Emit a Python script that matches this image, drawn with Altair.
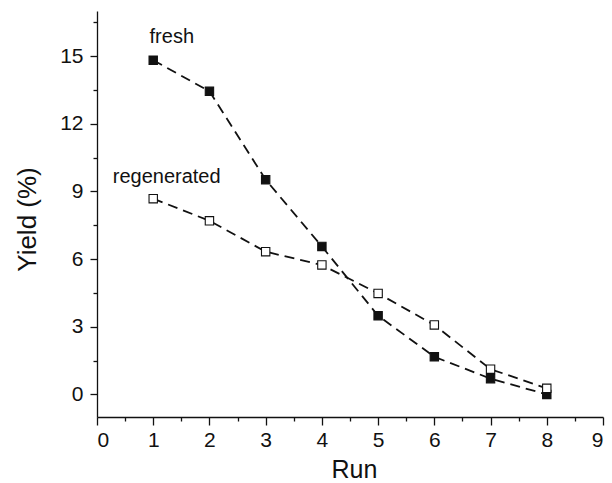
import altair as alt
import pandas as pd

runs = [1, 2, 3, 4, 5, 6, 7, 8]
fresh = [14.82, 13.44, 9.52, 6.56, 3.49, 1.67, 0.70, 0.0]
regenerated = [8.68, 7.70, 6.33, 5.74, 4.48, 3.08, 1.12, 0.27]
series_names = ["fresh", "regenerated"]

x_major = [0, 1, 2, 3, 4, 5, 6, 7, 8, 9]
x_minor = [0.5, 1.5, 2.5, 3.5, 4.5, 5.5, 6.5, 7.5, 8.5]
y_major = [0, 3, 6, 9, 12, 15]
y_minor = [-1.5, 1.5, 4.5, 7.5, 10.5, 13.5, 16.5]

label_text = ["fresh", "regenerated"]
label_x = [1.33, 0.28]
label_y = [15.58, 9.39]
label_align = ["center", "left"]

rows = []
for r, f, g in zip(runs, fresh, regenerated):
    rows.append({"run": r, "value": f, "series": "fresh"})
    rows.append({"run": r, "value": g, "series": "regenerated"})
df = pd.DataFrame(rows)

FONT = "Liberation Sans"
INK = "#111111"
xs = alt.Scale(domain=[0, 9], nice=False, zero=False)
ys = alt.Scale(domain=[-1, 17], nice=False, zero=False)

major_x_axis = alt.Axis(values=x_major, tickSize=8, labelFontSize=21, labelPadding=4,
                        title="Run", titleFontSize=25, titleFontWeight="normal",
                        titleX=257, titleY=60, titleBaseline="alphabetic", titleAnchor="middle",
                        titleAlign="center",
                        grid=False, domain=True, orient="bottom", format="d")
major_y_axis = alt.Axis(values=y_major, tickSize=7, labelFontSize=21, labelPadding=7,
                        title="Yield (%)", titleFontSize=26, titleFontWeight="normal",
                        titleX=-62, titleY=208, titleAngle=270, titleBaseline="alphabetic",
                        titleAlign="center",
                        grid=False, domain=True, orient="left", format="d")
minor_x_axis = alt.Axis(values=x_minor, tickSize=4, labels=False, domain=False, title=None,
                        grid=False, orient="bottom")
minor_y_axis = alt.Axis(values=y_minor, tickSize=4, labels=False, domain=False, title=None,
                        grid=False, orient="left")

lines = alt.Chart(df).mark_line(color=INK, strokeWidth=1.8, strokeDash=[10, 6]).encode(
    x=alt.X("run:Q", scale=xs, axis=major_x_axis),
    y=alt.Y("value:Q", scale=ys, axis=major_y_axis),
    detail="series:N",
)

points = alt.Chart(df).mark_square(size=70, stroke=INK, strokeWidth=1.1, opacity=1).encode(
    x=alt.X("run:Q", scale=xs, axis=minor_x_axis),
    y=alt.Y("value:Q", scale=ys, axis=minor_y_axis),
    fill=alt.Fill("series:N", scale=alt.Scale(domain=series_names, range=[INK, "white"]), legend=None),
)

text_layers = []
for t, lx, ly, la in zip(label_text, label_x, label_y, label_align):
    text_layers.append(
        alt.Chart(pd.DataFrame({"text": [t], "x": [lx], "y": [ly]}))
        .mark_text(fontSize=20, font=FONT, color=INK, baseline="alphabetic", align=la)
        .encode(
            x=alt.X("x:Q", scale=xs, axis=None),
            y=alt.Y("y:Q", scale=ys, axis=None),
            text="text:N",
        )
    )

chart = alt.layer(lines, points, *text_layers).resolve_axis(
    x="independent", y="independent"
).properties(
    width=506, height=406,
    autosize=alt.AutoSizeParams(type="none"),
    padding={"left": 97, "top": 11, "right": 9, "bottom": 66},
    background="white",
).configure_view(stroke=None).configure_axis(
    labelFont=FONT, titleFont=FONT, labelColor=INK, titleColor=INK,
    domainColor=INK, tickColor=INK, domainWidth=1.3, tickWidth=1.3,
)

chart.save("out.html", embed_options={"renderer": "svg", "actions": False})
